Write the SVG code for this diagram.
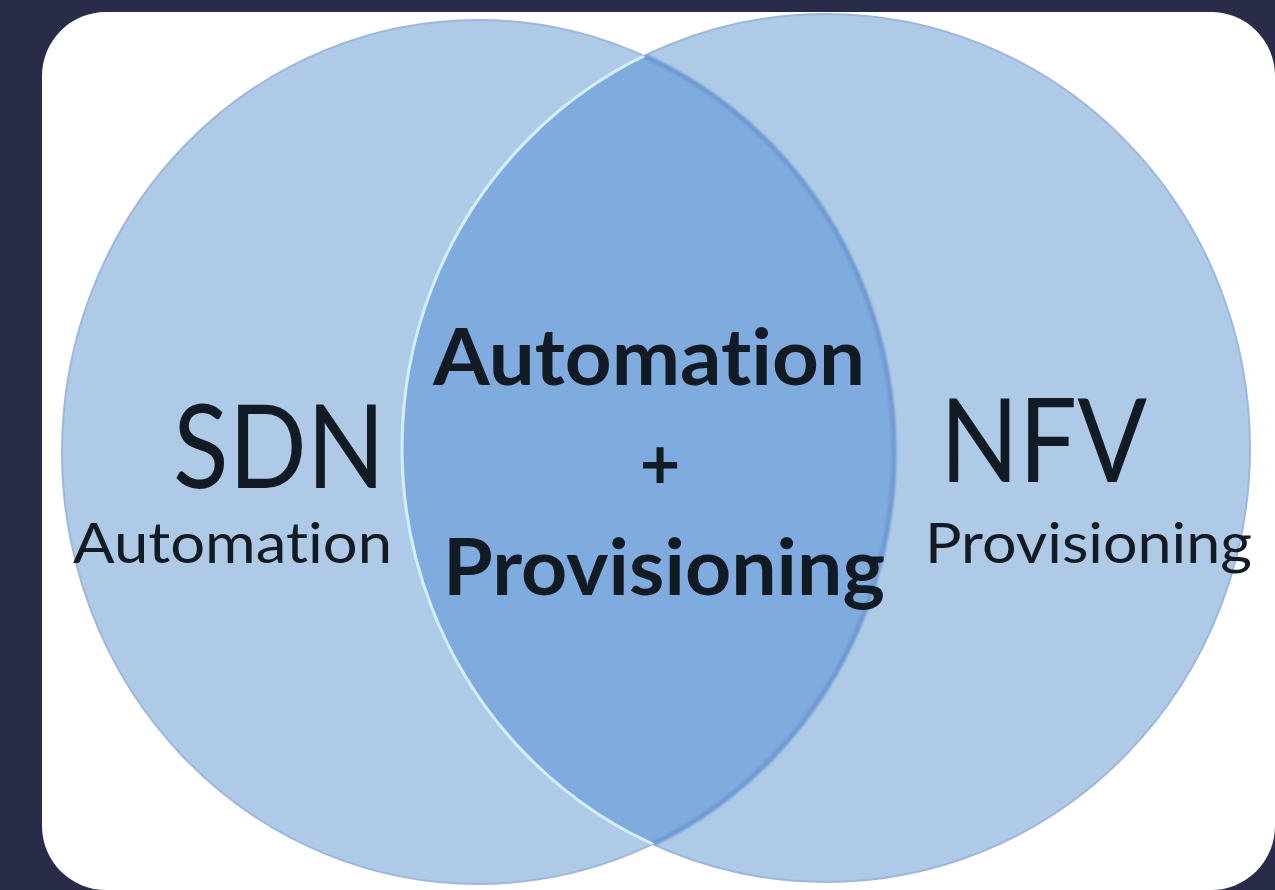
<svg xmlns="http://www.w3.org/2000/svg" width="1275" height="890" viewBox="0 0 1275 890">
  <style>
    .lbl { font-family: Lato, "Open Sans", "Liberation Sans", sans-serif; fill: #121a24; font-variant-ligatures: none; font-feature-settings: "liga" 0, "clig" 0; }
    .big { font-size: 116px; font-weight: 400; }
    .sub { font-size: 57px; font-weight: 400; }
    .mid { font-size: 78px; font-weight: 700; }
    .plus { font-size: 70px; font-weight: 700; }
    .circ { fill: #aecae7; }
  </style>
  <defs>
    <clipPath id="clipLeft"><ellipse cx="478" cy="452" rx="416" ry="432"/></clipPath>
    <clipPath id="clipRight"><ellipse cx="826" cy="448" rx="424" ry="434"/></clipPath>
    <clipPath id="clipPanel"><rect x="42" y="12" width="1233" height="878" rx="64" ry="64"/></clipPath>
    <filter id="soft" x="-5%" y="-5%" width="110%" height="110%"><feGaussianBlur stdDeviation="1.2"/></filter>
  </defs>

  <rect x="0" y="0" width="1275" height="890" fill="#292c49"/>
  <g id="panel">
    <rect x="42" y="12" width="1233" height="878" rx="64" ry="64" fill="#ffffff"/>
  </g>

  <g clip-path="url(#clipPanel)">
    <g id="circle-sdn">
      <ellipse class="circ" cx="478" cy="452" rx="416" ry="432" stroke="#9fb6df" stroke-width="2"/>
    </g>
    <g id="circle-nfv">
      <ellipse class="circ" cx="826" cy="448" rx="424" ry="434" stroke="#9fb6df" stroke-width="2"/>
    </g>
    <g id="overlap">
      <g clip-path="url(#clipLeft)">
        <ellipse cx="826" cy="448" rx="424" ry="434" fill="#80abdf"/>
      </g>
      <g clip-path="url(#clipRight)" filter="url(#soft)">
        <ellipse cx="478" cy="452" rx="416" ry="432" fill="none" stroke="#6f9ad3" stroke-width="5"/>
      </g>
      <g clip-path="url(#clipLeft)">
        <ellipse cx="826" cy="448" rx="424" ry="434" fill="none" stroke="#d2f0ff" stroke-width="3"/>
      </g>
    </g>
  </g>

  <g id="label-sdn">
    <text class="lbl big" x="173" y="488" textLength="212" lengthAdjust="spacingAndGlyphs">SDN</text>
    <text class="lbl sub" x="73" y="563" textLength="319" lengthAdjust="spacingAndGlyphs">Automation</text>
  </g>
  <g id="label-overlap">
    <text class="lbl mid" x="433" y="385" textLength="432" lengthAdjust="spacingAndGlyphs">Automation</text>
    <text class="lbl plus" x="660" y="489" text-anchor="middle">+</text>
    <text class="lbl mid" x="443" y="595" textLength="442" lengthAdjust="spacingAndGlyphs">Provisioning</text>
  </g>
  <g id="label-nfv">
    <text class="lbl big" x="940" y="482" textLength="207" lengthAdjust="spacingAndGlyphs">NFV</text>
    <text class="lbl sub" x="925" y="563" textLength="327" lengthAdjust="spacingAndGlyphs">Provisioning</text>
  </g>
</svg>
